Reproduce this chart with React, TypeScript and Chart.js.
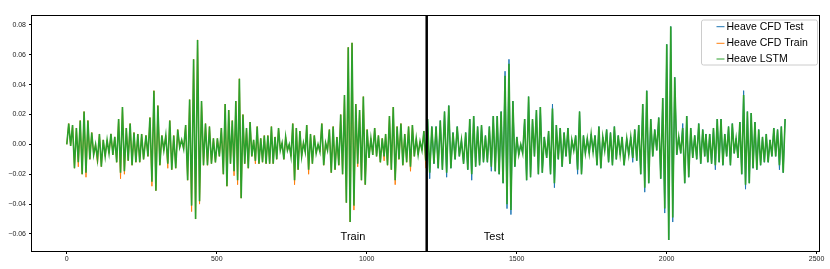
import React, { useEffect, useRef } from "react";
import { Chart, registerables } from "chart.js";

Chart.register(...registerables);

// Heave CFD (train part), alternating peaks/troughs, per stretch of time
const trainSeg1 = [0, .014, -.001, .013, -.016, .011, -.015, .016, -.020, .022,
  -.022, .016, -.010, .008, -.007, .000, -.013, .007, -.015, .003,
  -.008, .003, -.006, .007, -.007, .005, -.012, .017, -.023, .025,
  -.020, .011, -.011, .014, -.014, .008, -.012, .007, -.012, .007, -.010];
const trainSeg2 = [.006, -.008, .018, -.028, .036, -.031, .026, -.014, .006, -.004,
  .006, -.016, .016, -.017, .006, -.016, .010, -.002, .003, -.003,
  .013, -.024, .030, -.045, .057, -.050, .070, -.040, .029, -.014,
  .014, -.014, .012, -.013, .004, -.012, .004, -.008, .011, -.020];
const trainSeg3 = [.027, -.028, .023, -.013, .016, -.021, .029, -.027, .044, -.036,
  .020, -.013, .011, -.016, .015, -.008, .003, -.013, .012, -.013,
  .004, -.012, .006, -.013, .006, -.013, .012, -.013, .005, -.010,
  .011, -.004, .001, -.010, .005, -.004, .000, -.008, .014, -.027,
  .011, -.017, .009, -.008, .001, -.005];
const trainSeg4 = [.013, -.020, .007, -.013, .006, -.006, .000, -.005, .014, -.014,
  .001, -.004, .010, -.019, .012, -.017, .005, -.014, .020, -.020,
  .033, -.039, .065, -.052, .068, -.044, .027, -.015, .023, -.024,
  .032, -.027, .010, -.009, .004, -.007, .011, -.008, .006, -.012, .004, -.011];
const trainSeg5 = [.007, -.014, .019, -.017, .025, -.027, .012, -.010, .014, -.014,
  .007, -.012, .012, -.018, .013, -.008, .004, -.007, .002, -.004, .009, -.016];
const trainSpans: [number, number][] = [[0, 256], [264, 522], [528, 795], [800, 1058], [1063, 1197]];

// Heave CFD (test part)
const testSeg1 = [.017, -.023, .012, -.013, .012, -.016, .016, -.017, .022, -.022,
  .026, -.016, .008, -.010, .012, -.008, .003, -.013, .008];
const testSeg2 = [-.017, .017, -.024, .019, -.015, .012, -.014, .013, -.012, .006,
  -.012, .012, -.018, .019, -.018, .019, -.020, .022, -.026, .049,
  -.043, .057, -.047, .029, -.015, .005, -.007, .000, -.006, .017,
  -.024, .032, -.022, .017, -.008, .023, -.020, .025, -.019, .005];
const testSeg3 = [-.009, .009, -.020, .027, -.029, .013, -.010, .011, -.015, .008,
  -.008, .011, -.013, .003, -.004, .006, -.020, .022, -.020, .006,
  -.006, .004, -.006, .007, -.005, .006, -.014, .012, -.016, .005,
  -.004, .010, -.012, .008, -.014, .012, -.010, .006, -.007, .005, -.014];
const testSeg4 = [.004, -.007, .005, -.012, .010, -.011, .013, -.020, .027, -.032,
  .036, -.026, .017, -.008, .010, -.004, .018, -.023, .031, -.046,
  .067, -.064, .079, -.052, .045, -.007, .005, -.006, .014, -.026,
  .019, -.022, .011, -.009, .006, -.010, .014, -.013, .010, -.008];
const testSeg5 = [.007, -.012, .007, -.013, .011, -.017, .017, -.012, .017, -.014,
  .007, -.008, .012, -.014, .014, -.006, .004, -.009, .015, -.020,
  .036, -.030, .022, -.026, .021, -.016, .015, -.017, .010, -.014,
  .005, -.012, .007, -.012, .003, -.008, .011, -.008, .010, -.017,
  .012, -.019, .017];
const testSpans: [number, number][] = [[1203, 1330], [1337, 1592], [1600, 1858], [1867, 2127], [2131, 2395]];

// LSTM prediction: same as CFD except these extremes [stretch, index, value]
const lstmTrainChanges: [number, number, number][] = [
  [0, 6, -.012], [0, 10, -.019], [0, 16, -.010], [0, 28, -.019], [0, 30, -.018],
  [1, 3, -.025], [1, 11, -.013], [1, 23, -.041], [1, 27, -.038],
  [2, 5, -.018], [2, 7, -.024], [2, 17, -.011], [2, 39, -.024],
  [3, 1, -.017], [3, 25, -.041], [3, 27, -.013], [3, 41, -.008],
  [4, 5, -.024], [4, 13, -.015], [4, 21, -.011],
];
const lstmTestChanges: [number, number, number][] = [
  [0, 1, -.019], [0, 9, -.019],
  [1, 2, -.020], [1, 12, -.015], [1, 19, .046], [1, 20, -.040], [1, 21, .054], [1, 22, -.044],
  [2, 3, .024], [2, 4, -.026], [2, 16, -.017],
  [3, 3, -.009], [3, 9, -.029], [3, 19, -.043], [3, 23, -.049], [3, 28, .011],
  [4, 5, -.014], [4, 20, .033], [4, 21, -.027], [4, 39, -.014],
];

const SPLIT_X = 1200;
const xTicks = [0, 500, 1000, 1500, 2000, 2500];
const yTicks = [-0.06, -0.04, -0.02, 0, 0.02, 0.04, 0.06, 0.08];
const seriesLabels = ["Heave CFD Test", "Heave CFD Train", "Heave LSTM"];
const seriesColors = ["#1f77b4", "#ff7f0e", "#2ca02c"];
const phaseLabels = [
  { text: "Train", x: 954, y: -0.062 },
  { text: "Test", x: 1424, y: -0.062 },
];

const FONT = '"Liberation Sans", Arial, sans-serif';

function toPoints(segs: number[][], spans: [number, number][], changes?: [number, number, number][]) {
  const pts: { x: number; y: number }[] = [];
  segs.forEach((seg, s) => {
    const [a, b] = spans[s];
    seg.forEach((v, i) => {
      let y = v;
      if (changes) {
        const c = changes.find((c) => c[0] === s && c[1] === i);
        if (c) y = c[2];
      }
      pts.push({ x: a + ((b - a) * i) / (seg.length - 1), y });
    });
  });
  return pts;
}

const overlay = {
  id: "overlay",
  afterDatasetsDraw(chart: any) {
    const { ctx, chartArea: ca, scales } = chart;
    const x = scales.x, y = scales.y;
    ctx.save();
    // split line
    const sx = x.getPixelForValue(SPLIT_X);
    ctx.strokeStyle = "#000";
    ctx.lineWidth = 2.5;
    ctx.beginPath();
    ctx.moveTo(sx, ca.top);
    ctx.lineTo(sx, ca.bottom);
    ctx.stroke();
    // phase labels
    ctx.fillStyle = "#000";
    ctx.font = `11px ${FONT}`;
    ctx.textAlign = "center";
    ctx.textBaseline = "middle";
    phaseLabels.forEach((p) => {
      ctx.fillText(p.text, x.getPixelForValue(p.x), y.getPixelForValue(p.y));
    });
    // frame
    ctx.lineWidth = 1;
    ctx.strokeStyle = "#000";
    ctx.strokeRect(ca.left - 0.5, ca.top - 0.5, ca.right - ca.left + 1, ca.bottom - ca.top + 1);
    // legend
    const w = 116, h = 45;
    const x0 = ca.right - 1.5 - w, y0 = ca.top + 4;
    ctx.beginPath();
    ctx.roundRect(x0, y0, w, h, 2);
    ctx.fillStyle = "rgba(255,255,255,0.8)";
    ctx.fill();
    ctx.strokeStyle = "#cccccc";
    ctx.stroke();
    ctx.font = `10.5px ${FONT}`;
    ctx.textAlign = "left";
    const rows = [6.7, 23.3, 39];
    seriesLabels.forEach((lab, i) => {
      const ry = y0 + rows[i];
      ctx.strokeStyle = seriesColors[i];
      ctx.lineWidth = 1;
      ctx.beginPath();
      ctx.moveTo(x0 + 15, ry);
      ctx.lineTo(x0 + 23, ry);
      ctx.stroke();
      ctx.fillStyle = "#000";
      ctx.fillText(lab, x0 + 25, ry);
    });
    ctx.restore();
  },
};

export default function App() {
  const ref = useRef<HTMLCanvasElement | null>(null);
  useEffect(() => {
    if (!ref.current) return;
    const trainSegs = [trainSeg1, trainSeg2, trainSeg3, trainSeg4, trainSeg5];
    const testSegs = [testSeg1, testSeg2, testSeg3, testSeg4, testSeg5];
    const trainPts = toPoints(trainSegs, trainSpans);
    const testPts = toPoints(testSegs, testSpans);
    const lstmPts = [
      ...toPoints(trainSegs, trainSpans, lstmTrainChanges),
      ...toPoints(testSegs, testSpans, lstmTestChanges),
    ];
    const common = { pointRadius: 0, tension: 0, fill: false };
    const chart = new Chart(ref.current, {
      type: "line",
      data: {
        datasets: [
          { label: seriesLabels[0], data: testPts, borderColor: seriesColors[0], borderWidth: 1, order: 2, ...common },
          { label: seriesLabels[1], data: trainPts, borderColor: seriesColors[1], borderWidth: 1, order: 1, ...common },
          { label: seriesLabels[2], data: lstmPts, borderColor: seriesColors[2], borderWidth: 1.6, order: 0, ...common },
        ],
      },
      options: {
        animation: false,
        responsive: false,
        devicePixelRatio: 1,
        layout: { padding: { left: 0, right: 11, top: 16, bottom: 0 } },
        plugins: { legend: { display: false }, tooltip: { enabled: false } },
        scales: {
          x: {
            type: "linear",
            min: -116,
            max: 2508,
            afterFit: (s: any) => { s.height = 18; },
            afterBuildTicks: (s: any) => { s.ticks = xTicks.map((v) => ({ value: v })); },
            grid: { drawOnChartArea: false, drawTicks: true, tickLength: 3, color: "#000" },
            border: { display: false },
            ticks: {
              color: "#222",
              font: { family: FONT, size: 7 },
              padding: 1,
              maxRotation: 0,
              callback: (v: any) => String(v),
            },
          },
          y: {
            type: "linear",
            min: -0.0714,
            max: 0.086,
            afterFit: (s: any) => { s.width = 32; },
            afterBuildTicks: (s: any) => { s.ticks = yTicks.map((v) => ({ value: v })); },
            grid: { drawOnChartArea: false, drawTicks: true, tickLength: 3, color: "#000" },
            border: { display: false },
            ticks: {
              color: "#222",
              font: { family: FONT, size: 7 },
              padding: 3,
              callback: (v: any) => {
                const n = Number(v);
                const s = Math.abs(n).toFixed(2);
                return n < -1e-9 ? "\u2212" + s : s;
              },
            },
          },
        },
      },
      plugins: [overlay],
    });
    return () => chart.destroy();
  }, []);
  return (
    <div style={{ position: "absolute", left: 0, top: 0, width: 830, height: 269, background: "#fff" }}>
      <canvas ref={ref} width={830} height={269} style={{ display: "block" }} />
    </div>
  );
}
